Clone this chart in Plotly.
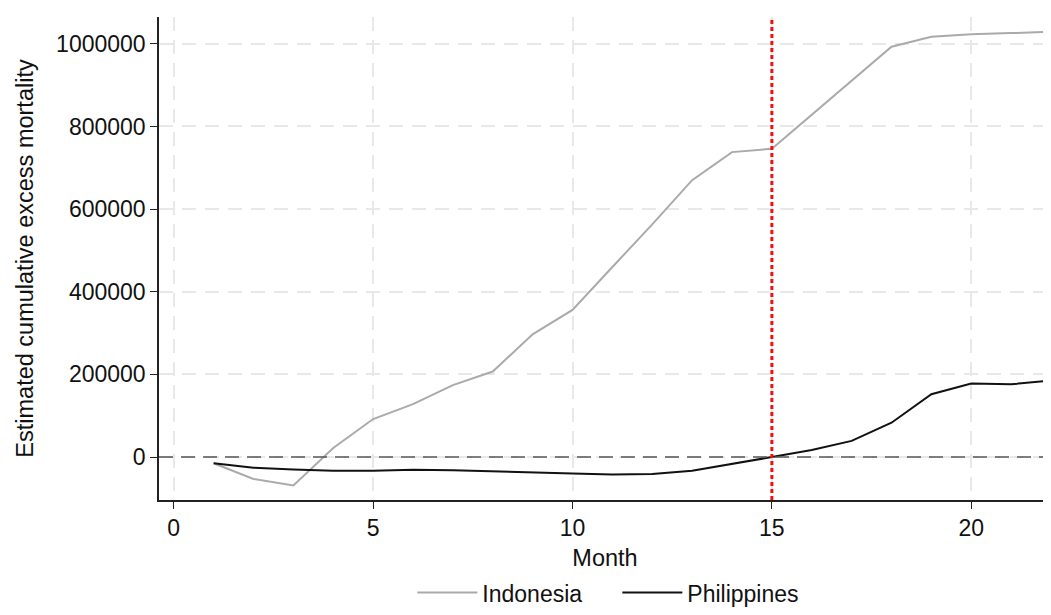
import plotly.graph_objects as go

months = list(range(1, 23))
indonesia = [-15000, -53000, -69000, 22000, 92000, 128000, 174000, 207000, 297000, 356000,
             460000, 563000, 670000, 738000, 746000, 828000, 911000, 993000, 1017000, 1023000,
             1026000, 1029000]
philippines = [-15000, -26000, -30000, -33000, -33000, -31000, -32000, -35000, -38000, -40000,
               -42000, -41000, -33000, -17000, 0, 17000, 39000, 83000, 152000, 178000,
               176000, 185000]
y_ticks = [0, 200000, 400000, 600000, 800000, 1000000]
x_ticks = [0, 5, 10, 15, 20]
cutoff_month = 15

fig = go.Figure()
fig.add_trace(go.Scatter(x=months, y=indonesia, mode="lines", name="Indonesia",
                         line=dict(color="#aaaaaa", width=2)))
fig.add_trace(go.Scatter(x=months, y=philippines, mode="lines", name="Philippines",
                         line=dict(color="#111111", width=2)))

fig.add_shape(type="line", xref="paper", yref="y", x0=0, x1=1, y0=0, y1=0,
              line=dict(color="#555555", width=1.5, dash="14px,8px"), layer="above")
fig.add_shape(type="line", xref="x", yref="paper", x0=cutoff_month, x1=cutoff_month, y0=0, y1=0.995,
              line=dict(color="#ee1111", width=3, dash="4px,3px"), layer="above")

font = "Liberation Sans, Arial, Helvetica, sans-serif"
fig.update_layout(
    width=1043, height=599,
    margin=dict(l=151, r=0, t=9, b=107),
    paper_bgcolor="white", plot_bgcolor="white",
    font=dict(family=font, size=23, color="#111111"),
    showlegend=True,
    legend=dict(orientation="h", x=0.284, xanchor="left", yref="container", y=0.024, yanchor="middle",
                font=dict(size=23), itemwidth=60, entrywidth=130, tracegroupgap=0),
    xaxis=dict(range=[-0.37, 22], tickvals=x_ticks, showgrid=True, gridcolor="#e8e8e8",
               griddash="14px,9px", gridwidth=1.5, zeroline=False, showline=True, linecolor="#222222",
               linewidth=1.5, ticks="outside", ticklen=7, tickcolor="#222222", automargin=False,
               title=dict(text="Month", standoff=9, font=dict(size=23.5)), tickfont=dict(size=23)),
    yaxis=dict(range=[-104000, 1065000], tickvals=y_ticks, tickformat="d",
               showgrid=True, gridcolor="#e8e8e8", griddash="14px,9px", gridwidth=1.5,
               zeroline=False, showline=True, linecolor="#222222", linewidth=1.5,
               ticks="outside", ticklen=7, tickcolor="#222222", automargin=False,
               title=dict(text="Estimated cumulative excess mortality", standoff=16, font=dict(size=23.5)),
               tickfont=dict(size=23)),
)

fig.write_html("out.html")
